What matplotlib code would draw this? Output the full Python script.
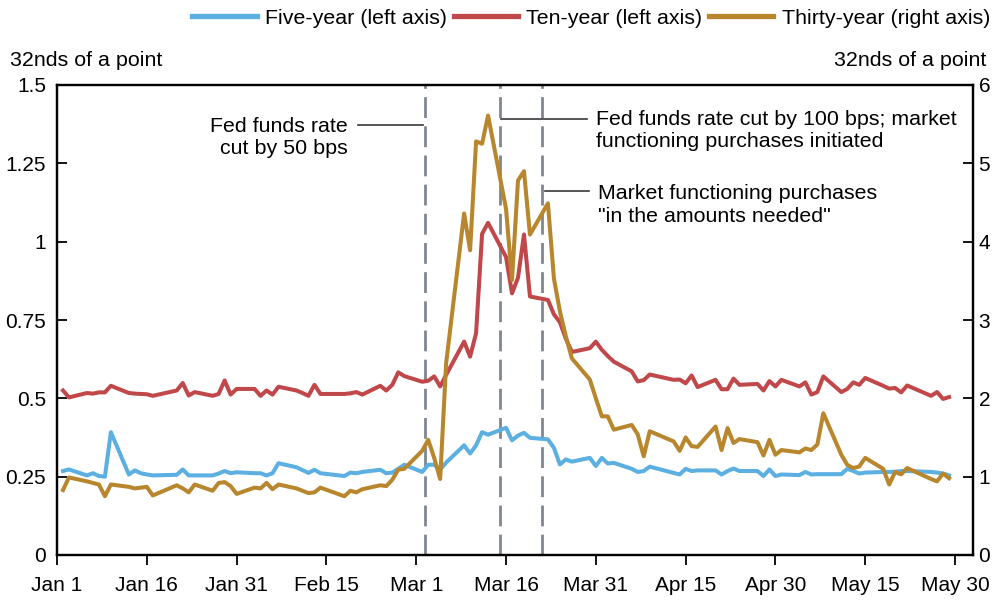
import matplotlib
matplotlib.use("Agg")
import matplotlib.pyplot as plt
import pandas as pd

plt.rcParams['font.family'] = ['Liberation Sans', 'DejaVu Sans']

# ---------------- data ----------------
holidays = ["2020-01-20", "2020-02-17", "2020-04-10", "2020-05-25"]
dates = pd.bdate_range("2020-01-02", "2020-05-29", freq="C", holidays=holidays)

five_year = [
    0.268, 0.273, 0.254, 0.261, 0.252, 0.250, 0.392, 0.257, 0.270, 0.261, 0.257, 0.254, 0.256, 0.273, 0.254, 0.254, 0.254, 0.260, 0.268, 0.261, 0.264,
    0.261, 0.261, 0.254, 0.261, 0.293, 0.280, 0.271, 0.262, 0.272, 0.261, 0.252, 0.263, 0.261, 0.265, 0.272, 0.261, 0.263, 0.275, 0.288,
    0.265, 0.288, 0.288, 0.273, 0.295, 0.350, 0.324, 0.350, 0.392, 0.384, 0.406, 0.366, 0.381, 0.390, 0.374, 0.369, 0.342, 0.289, 0.305, 0.298, 0.310, 0.284,
    0.310, 0.292, 0.294, 0.275, 0.265, 0.268, 0.282, 0.262, 0.257, 0.275, 0.268, 0.270, 0.270, 0.257, 0.268, 0.276, 0.268, 0.268, 0.252, 0.273, 0.252,
    0.257, 0.255, 0.265, 0.257, 0.258, 0.258, 0.258, 0.275, 0.268, 0.260, 0.263, 0.265, 0.265, 0.266, 0.268, 0.268, 0.265, 0.263, 0.260, 0.254,
]
ten_year = [
    0.525, 0.503, 0.517, 0.515, 0.519, 0.519, 0.540, 0.517, 0.515, 0.514, 0.513, 0.508, 0.525, 0.549, 0.509, 0.520, 0.508, 0.514, 0.557, 0.512, 0.530,
    0.530, 0.508, 0.525, 0.512, 0.537, 0.525, 0.517, 0.508, 0.543, 0.514, 0.514, 0.516, 0.520, 0.512, 0.540, 0.525, 0.543, 0.583, 0.571,
    0.553, 0.556, 0.570, 0.538, 0.575, 0.681, 0.633, 0.708, 1.025, 1.060, 0.951, 0.835, 0.885, 1.023, 0.825, 0.814, 0.768, 0.743, 0.690, 0.648, 0.660, 0.681,
    0.655, 0.635, 0.617, 0.586, 0.554, 0.558, 0.576, 0.559, 0.560, 0.548, 0.573, 0.536, 0.559, 0.529, 0.529, 0.563, 0.543, 0.546, 0.525, 0.555, 0.538,
    0.559, 0.538, 0.551, 0.512, 0.520, 0.570, 0.520, 0.530, 0.551, 0.543, 0.565, 0.540, 0.531, 0.533, 0.519, 0.541, 0.508, 0.520, 0.498, 0.504,
]
thirty_year = [
    0.83, 0.99, 0.94, 0.92, 0.90, 0.75, 0.90, 0.87, 0.85, 0.86, 0.87, 0.76, 0.89, 0.85, 0.80, 0.90, 0.82, 0.92, 0.93, 0.88, 0.78,
    0.86, 0.85, 0.92, 0.84, 0.90, 0.85, 0.82, 0.79, 0.80, 0.86, 0.75, 0.82, 0.80, 0.84, 0.89, 0.88, 0.96, 1.09, 1.10,
    1.33, 1.47, 1.24, 0.97, 2.45, 4.36, 3.89, 5.28, 5.25, 5.61, 4.42, 3.51, 4.78, 4.90, 4.09, 4.49, 3.53, 3.11, 2.79, 2.51, 2.24, 2.00,
    1.77, 1.77, 1.60, 1.66, 1.54, 1.26, 1.58, 1.45, 1.33, 1.50, 1.39, 1.38, 1.64, 1.34, 1.62, 1.43, 1.48, 1.44, 1.27, 1.47, 1.28,
    1.34, 1.31, 1.36, 1.34, 1.41, 1.81, 1.28, 1.15, 1.11, 1.13, 1.24, 1.10, 0.90, 1.06, 1.03, 1.11, 0.97, 0.94, 1.04, 0.98,
]
series_labels = ["Five-year (left axis)", "Ten-year (left axis)", "Thirty-year (right axis)"]

tick_dates = ["2020-01-01", "2020-01-16", "2020-01-31", "2020-02-15", "2020-03-01", "2020-03-16",
              "2020-03-31", "2020-04-15", "2020-04-30", "2020-05-15", "2020-05-30"]
tick_labels = ["Jan 1", "Jan 16", "Jan 31", "Feb 15", "Mar 1", "Mar 16",
               "Mar 31", "Apr 15", "Apr 30", "May 15", "May 30"]
left_ticks = [0, 0.25, 0.5, 0.75, 1, 1.25, 1.5]
left_tick_labels = ["0", "0.25", "0.5", "0.75", "1", "1.25", "1.5"]
right_ticks = [0, 1, 2, 3, 4, 5, 6]

event_dates = ["2020-03-02 12:00", "2020-03-15 00:00", "2020-03-22 00:00"]
event_labels = ["Fed funds rate\ncut by 50 bps",
                "Fed funds rate cut by 100 bps; market\nfunctioning purchases initiated",
                "Market functioning purchases\n\"in the amounts needed\""]

assert len(dates) == len(five_year) == len(ten_year) == len(thirty_year)

# ---------------- style ----------------
C_BLUE = "#5BAFE1"
C_RED = "#C0474A"
C_GOLD = "#B7862D"
C_DASH = "#7F8690"
C_LEAD = "#3A3A3A"
FS_TICK = 15
FS_TEXT = 15.4
LW = 2.9

W, H = 992, 600
L, R, T, B = 57, 973, 85, 555

fig = plt.figure(figsize=(W / 100, H / 100), dpi=100)
ax = fig.add_axes([L / W, 1 - B / H, (R - L) / W, (B - T) / H])
ax2 = ax.twinx()

# event lines
for d in event_dates:
    ax.axvline(pd.Timestamp(d), color=C_DASH, lw=2.0, ls=(0, (7.5, 3.0)), zorder=1)

l1, = ax.plot(dates, five_year, color=C_BLUE, lw=LW, zorder=3, solid_joinstyle='round')
l2, = ax.plot(dates, ten_year, color=C_RED, lw=LW, zorder=3, solid_joinstyle='round')
l3, = ax2.plot(dates, thirty_year, color=C_GOLD, lw=LW, zorder=3, solid_joinstyle='round')

ax.set_xlim(pd.Timestamp("2020-01-01"), pd.Timestamp("2020-06-02"))
ax.set_ylim(0, 1.5)
ax2.set_ylim(0, 6)

ax.set_xticks(pd.to_datetime(tick_dates))
ax.set_xticklabels(tick_labels)
ax.set_yticks(left_ticks)
ax.set_yticklabels(left_tick_labels)
ax2.set_yticks(right_ticks)
ax2.set_yticklabels([str(t) for t in right_ticks])

ax.tick_params(axis='x', direction='out', length=7, width=1.3, pad=8, labelsize=FS_TICK, colors='black')
ax.tick_params(axis='y', direction='in', length=7, width=1.3, pad=8, labelsize=FS_TICK)
ax2.tick_params(axis='y', direction='in', length=7, width=1.3, pad=4, labelsize=FS_TICK)

for a in (ax, ax2):
    for s in a.spines.values():
        s.set_linewidth(1.6)
        s.set_color('black')

# axis unit labels
fig.text(10 / W, 1 - 60 / H, "32nds of a point", ha='left', va='center', fontsize=FS_TEXT)
fig.text(986 / W, 1 - 60 / H, "32nds of a point", ha='right', va='center', fontsize=FS_TEXT)

# annotations (axes-fraction layout positions)
def ax_frac(px, py):
    return ((px - L) / (R - L), (B - py) / (B - T))

tr = ax.transAxes
for (x0, x1, y) in [(358, 423, 124.5), (501, 587, 118.5), (545, 589, 190.5)]:
    a0 = ax_frac(x0, y)
    a1 = ax_frac(x1, y)
    ax.plot([a0[0], a1[0]], [a0[1], a1[1]], transform=tr, color=C_LEAD, lw=1.2, zorder=4)

p = ax_frac(348, 137.7)
ax.text(p[0], p[1], event_labels[0], transform=tr, ha='right', va='center', multialignment='right',
        fontsize=FS_TEXT, linespacing=1.22)
p = ax_frac(596, 130.8)
ax.text(p[0], p[1], event_labels[1], transform=tr, ha='left', va='center', multialignment='left',
        fontsize=FS_TEXT, linespacing=1.22)
p = ax_frac(598, 205)
ax.text(p[0], p[1], event_labels[2], transform=tr, ha='left', va='center', multialignment='left',
        fontsize=FS_TEXT, linespacing=1.22)

# legend
leg = fig.legend([l1, l2, l3], series_labels, loc='center right', bbox_to_anchor=(990 / W, 1 - 18 / H),
                 ncol=3, frameon=False, fontsize=FS_TEXT, handlelength=3.0, handletextpad=0.4,
                 columnspacing=0.3, borderpad=0, borderaxespad=0)
for h in leg.get_lines():
    h.set_linewidth(3.8)

fig.savefig("out.png", dpi=100)
